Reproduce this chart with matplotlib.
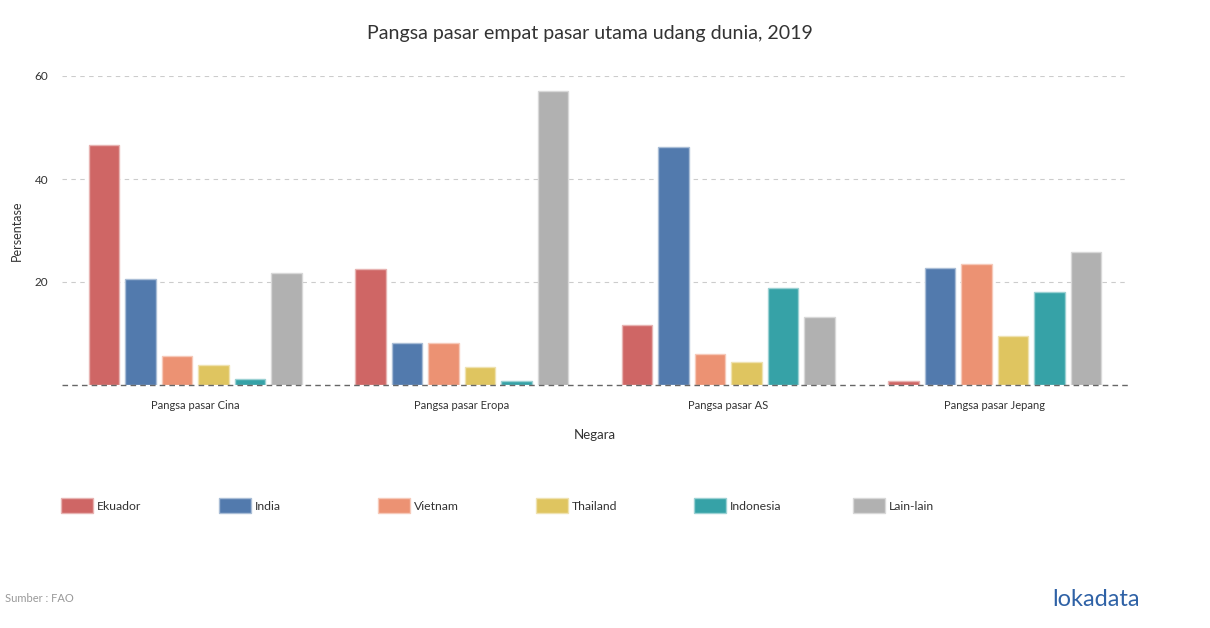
import matplotlib
matplotlib.use("Agg")
from matplotlib import pyplot as plt
from matplotlib.patches import Rectangle
import numpy as np

plt.rcParams['font.family'] = ['Lato', 'DejaVu Sans']

markets = ["Pangsa pasar Cina", "Pangsa pasar Eropa", "Pangsa pasar AS", "Pangsa pasar Jepang"]
countries = ["Ekuador", "India", "Vietnam", "Thailand", "Indonesia", "Lain-lain"]
ekuador = [46.6, 22.5, 11.7, 0.8]
india = [20.6, 8.2, 46.2, 22.7]
vietnam = [5.6, 8.2, 6.0, 23.5]
thailand = [3.9, 3.5, 4.5, 9.5]
indonesia = [1.2, 0.8, 18.8, 18.1]
lain = [21.7, 57.1, 13.2, 25.8]
yticks = [20, 40, 60]

series = [ekuador, india, vietnam, thailand, indonesia, lain]
colors = ["#cf6665", "#527aad", "#ec9273", "#dfc560", "#36a2a7", "#b1b1b1"]
edges = ["#e7b3b2", "#a9bdd6", "#f6c9b9", "#efe2b0", "#9bd1d3", "#d8d8d8"]

fig = plt.figure(figsize=(12.1, 6.28), dpi=100)
ax = fig.add_axes([62/1210, 1-385/628, 1066/1210, 309/628])

bar_w = 0.116
step = 0.137
x = np.arange(len(markets))
for i, vals in enumerate(series):
    ax.bar(x + (i - 2.5)*step, vals, width=bar_w, color=colors[i],
           edgecolor=edges[i], linewidth=1.0, zorder=2)

ax.set_xlim(-0.5, 3.5)
ax.set_ylim(0, 60)
ax.set_yticks(yticks)
ax.set_yticklabels([str(t) for t in yticks], fontsize=8.5, color="#333333")
ax.set_xticks(x)
ax.set_xticklabels(markets, fontsize=8, color="#333333")
ax.tick_params(axis="both", length=0)
ax.tick_params(axis="y", pad=10)
ax.tick_params(axis="x", pad=11)
for s in ax.spines.values():
    s.set_visible(False)
ax.grid(axis="y", linestyle=(0, (4, 4)), color="#cccccc", linewidth=0.8, zorder=0)
ax.axhline(0, linestyle=(0, (4, 3)), color="#666666", linewidth=1.0, zorder=3, clip_on=False)

ax.set_ylabel("Persentase", fontsize=9, color="#333333", labelpad=8)
ax.set_xlabel("Negara", fontsize=9.5, color="#333333", labelpad=13)

fig.text(590/1210, 1-33/628, "Pangsa pasar empat pasar utama udang dunia, 2019",
         ha="center", va="center", fontsize=14.1, color="#333333")

# legend
lx = [61, 219, 378, 536, 694, 853]
for i, name in enumerate(countries):
    fig.add_artist(Rectangle((lx[i]/1210, 1-513/628), 32/1210, 15/628,
                             facecolor=colors[i], edgecolor=edges[i], linewidth=1.0,
                             transform=fig.transFigure))
    fig.text((lx[i]+36)/1210, 1-506/628, name, ha="left", va="center",
             fontsize=8.8, color="#333333")

fig.text(5/1210, 1-598/628, "Sumber : FAO", ha="left", va="center", fontsize=8, color="#999999")
fig.text(1140/1210, 1-600/628, "lokadata", ha="right", va="center", fontsize=17,
         color="#2f62a6")

fig.savefig("out.png", dpi=100)
